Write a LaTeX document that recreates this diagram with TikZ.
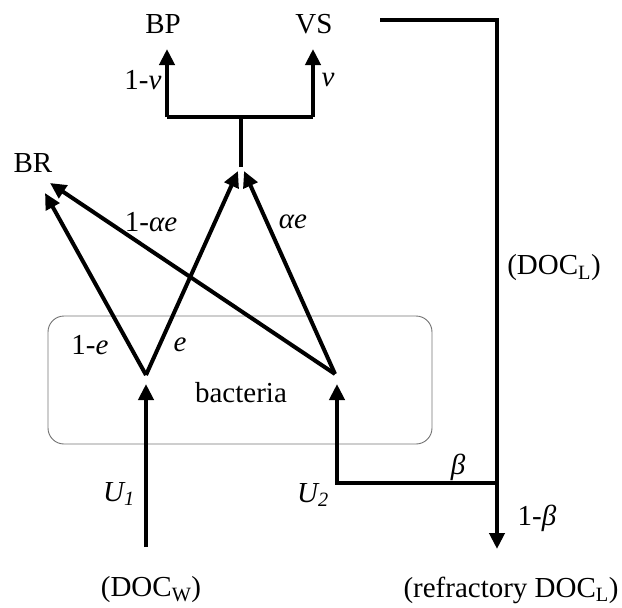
\documentclass[tikz,border=0pt]{standalone}
\usepackage{fontspec}
\setmainfont{Liberation Serif}
\usetikzlibrary{arrows.meta}
\begin{document}
\begin{tikzpicture}[x=1pt,y=-1pt,
  flow/.style={line width=4pt,-{Triangle[length=16pt,width=15pt]}},
  plain/.style={line width=4pt},
  lbl/.style={inner sep=0pt,font=\fontsize{29}{34}\selectfont},
  every node/.style={inner sep=0pt}]
\useasboundingbox (0,0) rectangle (622,608);
% box
\node[draw=black!55,line width=0.9pt,rounded corners=16pt,minimum width=384pt,minimum height=128pt] (box) at (240,380) {};
\node[lbl] (bact) at (241,393) {bacteria};
% text nodes
\node[lbl] (BP) at (163,24) {BP};
\node[lbl] (VS) at (314,24) {VS};
\node[lbl] (BR) at (33,163) {BR};
\node[lbl] (docw) at (151,590) {(DOC\textsubscript{W})};
\node[lbl] (docr) at (511,590) {(refractory DOC\textsubscript{L})};
\node[lbl] (docl) at (554,268) {(DOC\textsubscript{L})};
% coordinates
\coordinate (bpt) at (167,49);
\coordinate (vst) at (313,49);
\coordinate (bpb) at (167,117);
\coordinate (vsb) at (313,117);
\coordinate (stt) at (241,117);
\coordinate (stb) at (241,167);
\coordinate (tipL) at (238,171);
\coordinate (tipR) at (244,171);
\coordinate (brA) at (45,193);
\coordinate (brB) at (50,183);
\coordinate (apL) at (146,375);
\coordinate (apR) at (335,374);
\coordinate (u1s) at (146,547);
\coordinate (u1t) at (146,384);
\coordinate (u2t) at (337,384);
\coordinate (u2c) at (337,483);
\coordinate (bj) at (497,483);
\coordinate (ls) at (380,20);
\coordinate (lc) at (497,20);
\coordinate (lt) at (497,549);
% connectors
\draw[flow] (bpb) -- (bpt);
\draw[flow] (vsb) -- (vst);
\draw[plain,line cap=butt] (bpb) -- (vsb);
\draw[plain] (stb) -- (stt);
\draw[flow] (apL) -- (tipL);
\draw[flow] (apR) -- (tipR);
\draw[flow] (apL) -- (brA);
\draw[flow] (apR) -- (brB);
\draw[flow] (u1s) -- (u1t);
\draw[flow] (bj) -- (u2c) -- (u2t);
\draw[flow] (ls) -- (lc) -- (lt);
% labels
\node[lbl] at (143,80) {1-\textit{v}};
\node[lbl] at (328,80) {\textit{v}};
\node[lbl] at (151,222) {1-\textit{αe}};
\node[lbl] at (293,222) {\textit{αe}};
\node[lbl] at (90,345) {1-\textit{e}};
\node[lbl] at (180,345) {\textit{e}};
\node[lbl] at (119,494) {\textit{U\textsubscript{1}}};
\node[lbl] at (313,495) {\textit{U\textsubscript{2}}};
\node[lbl] at (458,467) {\textit{β}};
\node[lbl] at (537,518) {1-\textit{β}};
\end{tikzpicture}
\end{document}
